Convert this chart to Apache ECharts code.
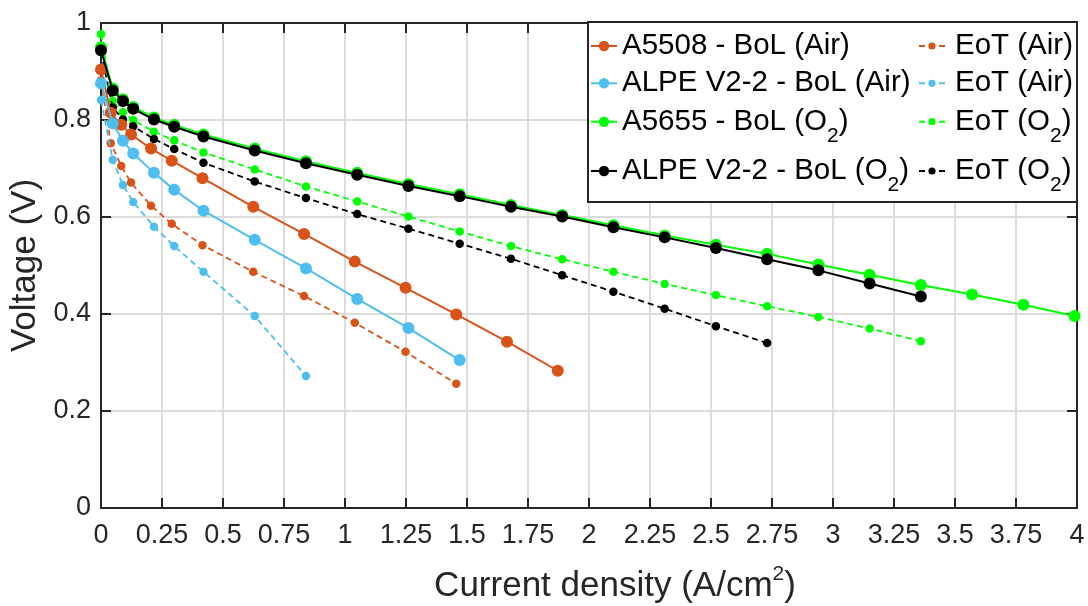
<!DOCTYPE html>
<html>
<head>
<meta charset="utf-8">
<script src="https://cdn.jsdelivr.net/npm/echarts@6/dist/echarts.min.js"></script>
<style>
html,body{margin:0;padding:0;background:#fff;}
#chart{width:1088px;height:606px;}
</style>
</head>
<body>
<div id="chart"></div>
<script>
// ---- data (current density A/cm2, voltage V) ----
const xTicks = ['0','0.25','0.5','0.75','1','1.25','1.5','1.75','2','2.25','2.5','2.75','3','3.25','3.5','3.75','4'];
const yTicks = ['0','0.2','0.4','0.6','0.8','1'];

const xALPE = [0, 0.048, 0.09, 0.132, 0.217, 0.3, 0.42, 0.63, 0.84, 1.05, 1.26, 1.47, 1.68, 1.89, 2.1, 2.31, 2.52, 2.73, 2.94, 3.15, 3.36, 3.57, 3.78, 3.99];
const xA5508 = [0, 0.04, 0.083, 0.123, 0.205, 0.29, 0.416, 0.624, 0.832, 1.04, 1.248, 1.456, 1.664, 1.872];

const vA5508BoL = [0.904, 0.815, 0.790, 0.770, 0.741, 0.716, 0.680, 0.621, 0.565, 0.508, 0.454, 0.399, 0.343, 0.283];
const vA5508EoT = [0.882, 0.752, 0.705, 0.671, 0.623, 0.586, 0.542, 0.487, 0.437, 0.382, 0.322, 0.256];
const vALPEAirBoL = [0.876, 0.793, 0.757, 0.731, 0.691, 0.656, 0.613, 0.553, 0.494, 0.431, 0.371, 0.305];
const vALPEAirEoT = [0.841, 0.718, 0.666, 0.631, 0.580, 0.540, 0.487, 0.396, 0.272];
const vA5655BoL = [0.950, 0.865, 0.843, 0.827, 0.805, 0.790, 0.770, 0.741, 0.715, 0.691, 0.668, 0.647, 0.625, 0.604, 0.583, 0.562, 0.543, 0.524, 0.502, 0.481, 0.460, 0.440, 0.419, 0.396];
const vA5655EoT = [0.977, 0.839, 0.816, 0.800, 0.776, 0.758, 0.733, 0.698, 0.663, 0.632, 0.601, 0.570, 0.540, 0.513, 0.487, 0.462, 0.439, 0.416, 0.394, 0.370, 0.344];
const vALPEO2BoL = [0.944, 0.861, 0.839, 0.823, 0.801, 0.786, 0.766, 0.737, 0.711, 0.687, 0.664, 0.643, 0.621, 0.601, 0.579, 0.558, 0.536, 0.513, 0.490, 0.463, 0.436];
const vALPEO2EoT = [0.940, 0.826, 0.801, 0.787, 0.761, 0.740, 0.712, 0.673, 0.639, 0.606, 0.576, 0.545, 0.514, 0.480, 0.446, 0.411, 0.375, 0.340];

const seriesIds = ['A5508 BoL', 'ALPE Air BoL', 'A5655 BoL', 'ALPE O2 BoL', 'A5508 EoT', 'ALPE Air EoT', 'A5655 EoT', 'ALPE O2 EoT'];
const legendLabels = ['A5508 - BoL (Air)', 'ALPE V2-2 - BoL (Air)', 'A5655 - BoL (O|2|)', 'ALPE V2-2 - BoL (O|2|)',
                      'EoT (Air)', 'EoT (Air)', 'EoT (O|2|)', 'EoT (O|2|)'];
const colors = ['#D95319', '#4DBEEE', '#00FF00', '#000000', '#D95319', '#4DBEEE', '#00FF00', '#000000'];

// ---- build ----
const FONT = '"Liberation Sans", Arial, Helvetica, sans-serif';
function zip(xs, vs) { return vs.map((v, i) => [xs[i], v]); }
const seriesData = [
  zip(xA5508, vA5508BoL), zip(xALPE, vALPEAirBoL), zip(xALPE, vA5655BoL), zip(xALPE, vALPEO2BoL),
  zip(xA5508, vA5508EoT), zip(xALPE, vALPEAirEoT), zip(xALPE, vA5655EoT), zip(xALPE, vALPEO2EoT)
];
const drawOrder = [4, 5, 6, 7, 0, 1, 2, 3];
const series = drawOrder.map((i, k) => {
  const bol = i < 4;
  return {
    name: seriesIds[i], type: 'line', data: seriesData[i],
    symbol: 'circle', symbolSize: bol ? 12 : 8.5,
    lineStyle: { color: colors[i], width: bol ? 2 : 1.8, type: bol ? 'solid' : [6, 4] },
    itemStyle: { color: colors[i] },
    z: 2 + k * 0.01, silent: true, animation: false
  };
});

function richLabel(s) {
  const parts = s.split('|');
  let out = '{m|' + parts[0] + '}';
  if (parts.length > 1) out += '{sub|' + parts[1] + '}{m|' + parts[2] + '}';
  return out;
}
const rowCenters = [46, 83.3, 126.7, 176];
const legends = [];
for (let i = 0; i < 8; i++) {
  const col = i < 4 ? 0 : 1;
  const row = i % 4;
  const hasSub = legendLabels[i].indexOf('|') >= 0;
  const H = hasSub ? 40 : 30;
  legends.push({
    left: col === 0 ? 590 : 918,
    top: rowCenters[row] - H / 2,
    padding: 0,
    itemWidth: 26,
    itemHeight: col === 0 ? 13 : 9,
    selectedMode: false,
    data: [seriesIds[i]],
    formatter: () => richLabel(legendLabels[i]),
    textStyle: {
      padding: col === 0 ? 0 : [0, 0, 0, 5],
      rich: {
        m: { fontSize: 29.5, lineHeight: 30, fontFamily: FONT, color: '#000', verticalAlign: 'top' },
        sub: { fontSize: 21, lineHeight: 21, fontFamily: FONT, color: '#000', verticalAlign: 'top', padding: [19, 0, 0, 0] }
      }
    },
    z: 6
  });
}

const axisCol = '#262626';
const option = {
  animation: false,
  backgroundColor: '#fff',
  grid: { left: 101, top: 23, width: 976, height: 485, containLabel: false, outerBoundsMode: 'none' },
  xAxis: [{
    type: 'value', min: 0, max: 4, interval: 0.25, position: 'bottom',
    axisLine: { show: true, onZero: false, lineStyle: { color: axisCol, width: 2 } },
    axisTick: { show: true, inside: true, length: 10, lineStyle: { color: axisCol, width: 2 } },
    splitLine: { show: true, lineStyle: { color: '#dcdcdc', width: 2 } },
    axisLabel: { fontSize: 27, fontFamily: FONT, color: axisCol, margin: 14,
      formatter: (v) => xTicks[Math.round(v / 0.25)] },
    name: '{m|Current density (A/cm}{sup|2}{m|)}',
    nameLocation: 'middle', nameGap: 53,
    nameTextStyle: { padding: [0, 0, 0, 52], rich: {
      m: { fontSize: 35, lineHeight: 40, fontFamily: FONT, color: axisCol, verticalAlign: 'top', padding: [8, 0, 0, 0] },
      sup: { fontSize: 21, lineHeight: 21, fontFamily: FONT, color: axisCol, verticalAlign: 'top', padding: [3, 0, 0, 0] }
    } }
  }, {
    type: 'value', min: 0, max: 4, interval: 0.25, position: 'top',
    axisLine: { show: true, onZero: false, lineStyle: { color: axisCol, width: 2 } },
    axisTick: { show: true, inside: true, length: 10, lineStyle: { color: axisCol, width: 2 } },
    splitLine: { show: false }, axisLabel: { show: false }
  }],
  yAxis: [{
    type: 'value', min: 0, max: 1, interval: 0.2, position: 'left',
    axisLine: { show: true, onZero: false, lineStyle: { color: axisCol, width: 2 } },
    axisTick: { show: true, inside: true, length: 10, lineStyle: { color: axisCol, width: 2 } },
    splitLine: { show: true, lineStyle: { color: '#dcdcdc', width: 2 } },
    axisLabel: { fontSize: 27, fontFamily: FONT, color: axisCol, margin: 10,
      formatter: (v) => yTicks[Math.round(v / 0.2)] },
    name: 'Voltage (V)', nameLocation: 'middle', nameGap: 50,
    nameTextStyle: { fontSize: 35, fontFamily: FONT, color: axisCol }
  }, {
    type: 'value', min: 0, max: 1, interval: 0.2, position: 'right',
    axisLine: { show: true, onZero: false, lineStyle: { color: axisCol, width: 2 } },
    axisTick: { show: true, inside: true, length: 10, lineStyle: { color: axisCol, width: 2 } },
    splitLine: { show: false }, axisLabel: { show: false }
  }],
  legend: legends,
  graphic: [{
    type: 'rect', z: 5,
    shape: { x: 588, y: 22, width: 489, height: 180 },
    style: { fill: '#fff', stroke: axisCol, lineWidth: 2 }
  }],
  series: series
};
const chart = echarts.init(document.getElementById('chart'), null, { renderer: 'canvas' });
chart.setOption(option);
</script>
</body>
</html>
